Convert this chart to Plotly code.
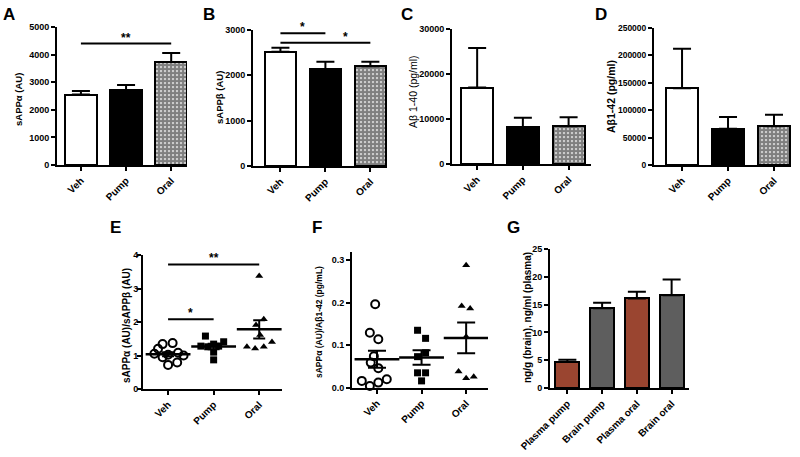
import plotly.graph_objects as go

groups = ["Veh", "Pump", "Oral"]

# bar panels: mean and upper SEM
a_mean = [2550, 2710, 3730]
a_err = [130, 190, 325]
b_mean = [2520, 2140, 2200]
b_err = [90, 160, 100]
c_mean = [17000, 8200, 8400]
c_err = [8800, 2100, 2000]
d_mean = [140000, 66000, 70500]
d_err = [72000, 21500, 21000]

# dot panels (individual animals)
e_veh = [1.34, 1.37, 1.20, 1.05, 1.02, 1.08, 1.00, 0.95, 0.72, 0.79]
e_pump = [1.58, 1.28, 1.26, 1.34, 1.28, 1.41, 1.10, 0.87]
e_oral = [3.37, 2.08, 1.91, 1.61, 1.26, 1.21, 1.26, 1.40]
e_mean = [1.04, 1.27, 1.78]
e_sem = [0.06, 0.08, 0.27]

f_veh = [0.196, 0.129, 0.114, 0.074, 0.059, 0.046, 0.016, 0.004, 0.012, 0.020]
f_pump = [0.135, 0.116, 0.073, 0.082, 0.035, 0.035, 0.016]
f_oral = [0.288, 0.192, 0.186, 0.120, 0.038, 0.022, 0.026]
f_mean = [0.067, 0.071, 0.117]
f_sem = [0.020, 0.017, 0.036]

# horizontal spread of the dots (category units)
e_veh_dx = [-0.12, 0.10, -0.22, -0.30, 0.0, 0.22, 0.34, -0.12, 0.0, 0.2]
e_pump_dx = [-0.18, -0.28, -0.13, 0.0, 0.11, 0.22, 0.0, 0.0]
e_oral_dx = [0.0, 0.1, -0.07, 0.02, -0.27, -0.09, 0.1, 0.28]
f_veh_dx = [-0.04, -0.16, 0.03, -0.07, -0.14, 0.03, -0.34, -0.16, 0.03, 0.22]
f_pump_dx = [-0.09, 0.09, -0.09, 0.09, -0.09, 0.09, 0.0]
f_oral_dx = [0.0, -0.1, 0.09, 0.0, -0.17, 0.0, 0.17]

g_labels = ["Plasma pump", "Brain pump", "Plasma oral", "Brain oral"]
g_mean = [4.66, 14.33, 16.1, 16.7]
g_err = [0.4, 1.0, 1.2, 2.8]

W, H = 800, 457
FONT = "Arial, Liberation Sans, sans-serif"
BROWN = "#9a4530"
GREY = "#5e5e5e"

fig = go.Figure()


def px_x(v):
    return v / W


def px_y(v):
    return 1 - v / H


def add_axes(n, xpx, ypx, xrange, yrange, dtick, ticktext, tickformat="d", ysize=9, ystand=0):
    """set up one panel: xpx=(left,right) pixels, ypx=(bottom,top) pixels"""
    sfx = "" if n == 1 else str(n)
    fig.layout["xaxis" + sfx] = dict(
        domain=[px_x(xpx[0]), px_x(xpx[1])], anchor="y" + sfx, range=xrange, automargin=False,
        showline=True, linecolor="black", linewidth=2, showgrid=False, zeroline=False,
        tickmode="array", tickvals=list(range(len(ticktext))), ticktext=ticktext,
        ticks="outside", ticklen=4, tickwidth=1.5, tickcolor="black", tickangle=-45,
        tickfont=dict(family=FONT, size=10, color="black", weight="bold"))
    fig.layout["yaxis" + sfx] = dict(
        domain=[px_y(ypx[0]), px_y(ypx[1])], anchor="x" + sfx, range=yrange, automargin=False,
        showline=True, linecolor="black", linewidth=2, showgrid=False, zeroline=False,
        dtick=dtick, tick0=0, ticks="outside", ticklen=4, tickwidth=1.5, tickcolor="black",
        tickformat=tickformat, ticklabelstandoff=ystand,
        tickfont=dict(family=FONT, size=ysize, color="black", weight="bold"))


def bar_panel(n, means, errs):
    sfx = "" if n == 1 else str(n)
    fills = ["white", "black", "white"]
    pats = [dict(shape=""), dict(shape=""),
            dict(shape=".", fgcolor="black", bgcolor="white", size=4, solidity=0.8)]
    for i in range(3):
        fig.add_trace(go.Bar(
            x=[i], y=[means[i]], width=0.7, xaxis="x" + sfx, yaxis="y" + sfx,
            marker=dict(color=fills[i], line=dict(color="black", width=2), pattern=pats[i]),
            error_y=dict(type="data", array=[errs[i]], arrayminus=[0], symmetric=False,
                         color="black", thickness=2, width=9),
            showlegend=False))


def dot_panel(n, pts, dxs, means, sems, capw):
    sfx = "" if n == 1 else str(n)
    styles = [dict(symbol="circle-open", size=8, color="black", line=dict(width=2, color="black")),
              dict(symbol="square", size=7, color="black"),
              dict(symbol="triangle-up", size=7, color="black")]
    for i in range(3):
        fig.add_trace(go.Scatter(
            x=[i + d for d in dxs[i]], y=pts[i], mode="markers", marker=styles[i],
            xaxis="x" + sfx, yaxis="y" + sfx, showlegend=False, cliponaxis=False))
    fig.add_trace(go.Scatter(
        x=[0, 1, 2], y=means, mode="markers", xaxis="x" + sfx, yaxis="y" + sfx,
        marker=dict(symbol="line-ew-open", size=32, color="black", line=dict(width=2.5, color="black")),
        error_y=dict(type="data", array=sems, color="black", thickness=2, width=capw),
        showlegend=False))


def sig(n, x0, x1, y, star, sx, sy):
    sfx = "" if n == 1 else str(n)
    fig.add_shape(type="line", xref="x" + sfx, yref="y" + sfx, x0=x0, x1=x1, y0=y, y1=y,
                  line=dict(color="black", width=2))
    fig.add_annotation(xref="x" + sfx, yref="y" + sfx, x=sx, y=sy, text=star, showarrow=False,
                       yanchor="bottom", yshift=-3, font=dict(family=FONT, size=12, color="black", weight="bold"))


# A
add_axes(1, (57, 187), (165, 27), [-0.53, 2.35], [0, 5000], 1000, groups)
bar_panel(1, a_mean, a_err)
sig(1, 0, 2, 4400, "**", 1, 4400)
# B
add_axes(2, (253, 387), (166, 30), [-0.61, 2.37], [0, 3000], 1000, groups)
bar_panel(2, b_mean, b_err)
sig(2, 0, 1, 2930, "*", 0.5, 2930)
sig(2, 0, 2, 2720, "*", 1.45, 2720)
# C
add_axes(3, (452, 591), (164, 29), [-0.55, 2.49], [0, 30000], 10000, groups)
bar_panel(3, c_mean, c_err)
# D
add_axes(4, (654, 791), (165, 28), [-0.61, 2.37], [0, 250000], 50000, groups, ysize=8.5)
bar_panel(4, d_mean, d_err)
# E
add_axes(5, (143, 282), (389, 255), [-0.55, 2.5], [0, 4], 1, groups, ystand=-3)
dot_panel(5, [e_veh, e_pump, e_oral], [e_veh_dx, e_pump_dx, e_oral_dx], e_mean, e_sem, 6)
sig(5, 0, 2, 3.72, "**", 1, 3.72)
sig(5, 0, 1, 2.08, "*", 0.5, 2.08)
# F
add_axes(6, (352, 488), (387.7, 252), [-0.56, 2.49], [0, 0.319], 0.1, groups, ".1f")
dot_panel(6, [f_veh, f_pump, f_oral], [f_veh_dx, f_pump_dx, f_oral_dx], f_mean, f_sem, 9)
# G
add_axes(7, (550, 689), (388, 249), [-0.5, 3.5], [0, 25], 5, g_labels)
fig.add_trace(go.Bar(
    x=list(range(4)), y=g_mean, width=0.69, xaxis="x7", yaxis="y7",
    marker=dict(color=[BROWN, GREY, BROWN, GREY], line=dict(color="black", width=2)),
    error_y=dict(type="data", array=g_err, arrayminus=[0] * 4, symmetric=False,
                 color="black", thickness=2, width=9),
    showlegend=False))

# y-axis titles
titles = [
    ("sAPP\u03b1 (AU)", 18, 100, 9.5, "bold"),
    ("sAPP\u03b2 (AU)", 220, 98, 9.5, "bold"),
    ("A\u03b2 1-40 (pg/ml)", 413, 92, 10.5, "normal"),
    ("A\u03b21-42 (pg/ml)", 611, 97, 10.5, "bold"),
    ("sAPP\u03b1 (AU)/sAPP\u03b2 (AU)", 126, 326, 10, "bold"),
    ("sAPP\u03b1 (AU)/A\u03b21-42 (pg/mL)", 319, 322, 8.5, "bold"),
    ("ng/g (brain), ng/ml (plasma)", 527, 318, 10, "bold"),
]
for txt, x, y, sz, wt in titles:
    fig.add_annotation(xref="paper", yref="paper", x=px_x(x), y=px_y(y), text=txt,
                       textangle=-90, showarrow=False, xanchor="center", yanchor="middle",
                       font=dict(family=FONT, size=sz, color="black", weight=wt))

# panel letters
letters = [("A", 9, 15), ("B", 209, 15), ("C", 407, 15), ("D", 601, 15),
           ("E", 116, 227), ("F", 317, 227), ("G", 513, 227)]
for t, x, y in letters:
    fig.add_annotation(xref="paper", yref="paper", x=px_x(x), y=px_y(y), text=t,
                       showarrow=False, xanchor="center", yanchor="middle",
                       font=dict(family=FONT, size=17, color="black", weight="bold"))

fig.update_layout(width=W, height=H, margin=dict(l=0, r=0, t=0, b=0),
                  paper_bgcolor="white", plot_bgcolor="white", bargap=0,
                  font=dict(family=FONT, color="black"))

# drop the default page margin so the figure sits at the window's corner
fig.write_html("out.html", config={"displayModeBar": False},
               post_script="document.body.style.margin='0';")
